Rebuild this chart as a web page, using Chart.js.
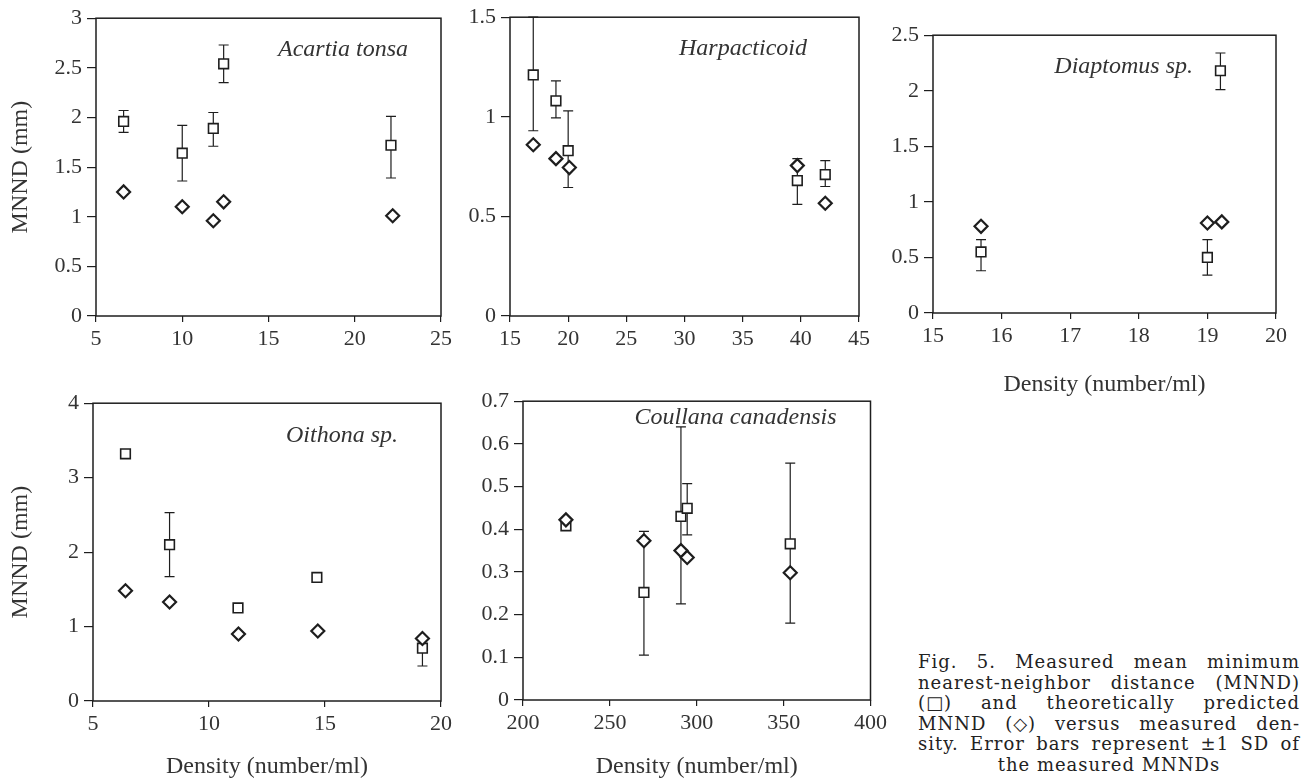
<!DOCTYPE html>
<html>
<head>
<meta charset="utf-8">
<script src="https://cdn.jsdelivr.net/npm/chart.js@4.4.1/dist/chart.umd.min.js"></script>
<style>
html, body { margin: 0; padding: 0; background: #fff; overflow: hidden; }
body { width: 1310px; height: 783px; position: relative; }
.panel { position: absolute; }
#caption { position: absolute; left: 918px; top: 652px; width: 382px;
  font-family: "DejaVu Serif", serif; font-size: 18px; letter-spacing: 1px;
  line-height: 20.5px; color: #222; }
#caption div { text-align: justify; text-align-last: justify; white-space: normal; }
#caption div.last { text-align: center; text-align-last: center; }
#caption .sym { display: inline-block; }
</style>
</head>
<body>
<div class="panel" id="p1"><canvas id="acartia"></canvas></div>
<div class="panel" id="p2"><canvas id="harpacticoid"></canvas></div>
<div class="panel" id="p3"><canvas id="diaptomus"></canvas></div>
<div class="panel" id="p4"><canvas id="oithona"></canvas></div>
<div class="panel" id="p5"><canvas id="coullana"></canvas></div>

<div id="caption">
  <div>Fig. 5. Measured mean minimum</div>
  <div>nearest-neighbor distance (MNND)</div>
  <div><span class="sym">(□)</span> and theoretically predicted</div>
  <div>MNND <span class="sym">(◇)</span> versus measured den-</div>
  <div>sity. Error bars represent ±1 SD of</div>
  <div class="last">the measured MNNDs</div>
</div>

<script>
// Acartia tonsa
const acartiaDensity = [6.6, 10.0, 11.8, 12.4, 22.1];
const acartiaMeasured = [1.96, 1.64, 1.89, 2.54, 1.72];
const acartiaSdHigh = [2.07, 1.92, 2.05, 2.73, 2.01];
const acartiaSdLow = [1.85, 1.36, 1.71, 2.35, 1.39];
const acartiaPredDensity = [6.6, 10.0, 11.8, 12.4, 22.2];
const acartiaPredicted = [1.25, 1.10, 0.96, 1.15, 1.01];

// Harpacticoid
const harpDensity = [17.0, 18.95, 20.0, 39.7, 42.1];
const harpMeasured = [1.21, 1.08, 0.83, 0.68, 0.71];
const harpSdHigh = [1.5, 1.18, 1.03, 0.79, 0.78];
const harpSdLow = [0.93, 0.995, 0.645, 0.56, 0.65];
const harpPredDensity = [17.0, 18.95, 20.1, 39.7, 42.1];
const harpPredicted = [0.86, 0.79, 0.745, 0.755, 0.566];

// Diaptomus sp.
const diapDensity = [15.7, 19.0, 19.19];
const diapMeasured = [0.55, 0.50, 2.18];
const diapSdHigh = [0.66, 0.66, 2.34];
const diapSdLow = [0.38, 0.34, 2.01];
const diapPredDensity = [15.7, 19.0, 19.21];
const diapPredicted = [0.78, 0.81, 0.82];

// Oithona sp.
const oithDensity = [6.4, 8.3, 11.25, 14.65, 19.2];
const oithMeasured = [3.32, 2.10, 1.25, 1.66, 0.71];
const oithSdHigh = [null, 2.53, null, null, null];
const oithSdLow = [null, 1.67, null, null, 0.47];
const oithPredDensity = [6.4, 8.3, 11.27, 14.69, 19.2];
const oithPredicted = [1.48, 1.33, 0.90, 0.94, 0.84];

// Coullana canadensis
const coulDensity = [224.7, 269.6, 290.9, 294.5, 353.8];
const coulMeasured = [0.408, 0.252, 0.43, 0.449, 0.366];
const coulSdHigh = [null, 0.395, 0.64, 0.507, 0.555];
const coulSdLow = [null, 0.105, 0.225, 0.387, 0.18];
const coulPredDensity = [224.7, 269.6, 290.9, 294.5, 353.8];
const coulPredicted = [0.422, 0.373, 0.35, 0.334, 0.298];

const SERIF = '"Liberation Serif", "Times New Roman", serif';
const INK = '#1e1e1e';

function toPoints(xs, ys) {
  return xs.map((x, i) => ({x: x, y: ys[i]}));
}

// plain tick numbers: 3, 2.5, 2 ... (no forced decimals)
function plainTick(v) {
  return String(Number(v.toFixed(3)));
}

// l/t/r/b = where the plot box sits on the page
function panel(boxId, canvasId, cfg) {
  const L = cfg.yTitle ? cfg.l : 60;
  const T = 16, R = 20;
  const B = cfg.xTitle ? 90 : 40;
  const box = document.getElementById(boxId);
  box.style.left = (cfg.l - L) + 'px';
  box.style.top = (cfg.t - T) + 'px';
  box.style.width = (cfg.r - cfg.l + L + R) + 'px';
  box.style.height = (cfg.b - cfg.t + T + B) + 'px';

  const deco = {
    id: 'deco_' + canvasId,
    beforeDatasetsDraw(chart) {
      const {ctx, scales: {x, y}} = chart;
      ctx.save();
      ctx.strokeStyle = INK;
      ctx.lineWidth = 1.2;
      const cap = 5;
      cfg.density.forEach((d, i) => {
        const px = x.getPixelForValue(d);
        const pm = y.getPixelForValue(cfg.measured[i]);
        [cfg.sdHigh[i], cfg.sdLow[i]].forEach(v => {
          if (v == null) return;
          const pe = y.getPixelForValue(v);
          ctx.beginPath();
          ctx.moveTo(px, pm);
          ctx.lineTo(px, pe);
          ctx.moveTo(px - cap, pe);
          ctx.lineTo(px + cap, pe);
          ctx.stroke();
        });
      });
      ctx.restore();
    },
    afterDraw(chart) {
      const {ctx, chartArea: a} = chart;
      ctx.save();
      ctx.strokeStyle = INK;
      ctx.lineWidth = 1.5;
      ctx.strokeRect(a.left, a.top, a.right - a.left, a.bottom - a.top);
      ctx.font = 'italic 24px ' + SERIF;
      ctx.fillStyle = '#333';
      ctx.textAlign = 'right';
      ctx.textBaseline = 'middle';
      ctx.fillText(cfg.name, a.right - cfg.nameRight, a.top + cfg.nameTop);
      ctx.restore();
    }
  };

  return new Chart(document.getElementById(canvasId), {
    type: 'scatter',
    data: {
      datasets: [{
        label: 'Predicted MNND',
        data: toPoints(cfg.predDensity, cfg.predicted),
        pointStyle: 'rectRot',
        pointRadius: 6.5,
        borderWidth: 2.2,
        borderColor: INK,
        backgroundColor: '#fff',
        clip: false
      }, {
        label: 'Measured MNND',
        data: toPoints(cfg.density, cfg.measured),
        pointStyle: 'rect',
        pointRadius: 6.8,
        borderWidth: 1.6,
        borderColor: INK,
        backgroundColor: '#fff',
        clip: false
      }]
    },
    options: {
      responsive: true,
      maintainAspectRatio: false,
      animation: false,
      layout: {padding: {top: T, right: R, left: 0, bottom: 0}},
      plugins: {legend: {display: false}, tooltip: {enabled: false}},
      scales: {
        x: {
          type: 'linear',
          min: cfg.xMin, max: cfg.xMax,
          afterFit: s => { s.height = B; },
          border: {display: false},
          grid: {drawOnChartArea: false, drawTicks: true, tickLength: 6, color: INK, lineWidth: 1.2},
          ticks: {stepSize: cfg.xStep, autoSkip: false, maxRotation: 0, padding: 4,
                  color: '#333', font: {family: SERIF, size: 22}, callback: plainTick},
          title: {display: !!cfg.xTitle, text: 'Density (number/ml)', color: '#333',
                  font: {family: SERIF, size: 24}, padding: {top: 0, bottom: cfg.xTitlePad || 0}}
        },
        y: {
          min: cfg.yMin, max: cfg.yMax,
          afterFit: s => { s.width = L; },
          border: {display: false},
          grid: {drawOnChartArea: false, drawTicks: true, tickLength: 9, color: INK, lineWidth: 1.2},
          ticks: {stepSize: cfg.yStep, autoSkip: false, padding: 5,
                  color: '#333', font: {family: SERIF, size: 22}, callback: plainTick},
          title: {display: !!cfg.yTitle, text: 'MNND (mm)', color: '#333',
                  font: {family: SERIF, size: 24}, padding: {top: 6, bottom: 0}}
        }
      }
    },
    plugins: [deco]
  });
}

panel('p1', 'acartia', {
  l: 96, t: 16, r: 441, b: 316, yTitle: true,
  xMin: 5, xMax: 25, xStep: 5, yMin: 0, yMax: 3, yStep: 0.5,
  name: 'Acartia tonsa', nameRight: 33, nameTop: 31,
  density: acartiaDensity, measured: acartiaMeasured, sdHigh: acartiaSdHigh, sdLow: acartiaSdLow,
  predDensity: acartiaPredDensity, predicted: acartiaPredicted
});

panel('p2', 'harpacticoid', {
  l: 510, t: 15, r: 859, b: 316,
  xMin: 15, xMax: 45, xStep: 5, yMin: 0, yMax: 1.5, yStep: 0.5,
  name: 'Harpacticoid', nameRight: 52, nameTop: 31,
  density: harpDensity, measured: harpMeasured, sdHigh: harpSdHigh, sdLow: harpSdLow,
  predDensity: harpPredDensity, predicted: harpPredicted
});

panel('p3', 'diaptomus', {
  l: 933, t: 33, r: 1276, b: 313, xTitle: true, xTitlePad: 4,
  xMin: 15, xMax: 20, xStep: 1, yMin: 0, yMax: 2.5, yStep: 0.5,
  name: 'Diaptomus sp.', nameRight: 83, nameTop: 31,
  density: diapDensity, measured: diapMeasured, sdHigh: diapSdHigh, sdLow: diapSdLow,
  predDensity: diapPredDensity, predicted: diapPredicted
});

panel('p4', 'oithona', {
  l: 93, t: 401, r: 441, b: 701, yTitle: true, xTitle: true, xTitlePad: 10,
  xMin: 5, xMax: 20, xStep: 5, yMin: 0, yMax: 4, yStep: 1,
  name: 'Oithona sp.', nameRight: 43, nameTop: 32,
  density: oithDensity, measured: oithMeasured, sdHigh: oithSdHigh, sdLow: oithSdLow,
  predDensity: oithPredDensity, predicted: oithPredicted
});

panel('p5', 'coullana', {
  l: 523, t: 399, r: 871, b: 700, xTitle: true, xTitlePad: 9,
  xMin: 200, xMax: 400, xStep: 50, yMin: 0, yMax: 0.7, yStep: 0.1,
  name: 'Coullana canadensis', nameRight: 34, nameTop: 16,
  density: coulDensity, measured: coulMeasured, sdHigh: coulSdHigh, sdLow: coulSdLow,
  predDensity: coulPredDensity, predicted: coulPredicted
});
</script>
</body>
</html>
